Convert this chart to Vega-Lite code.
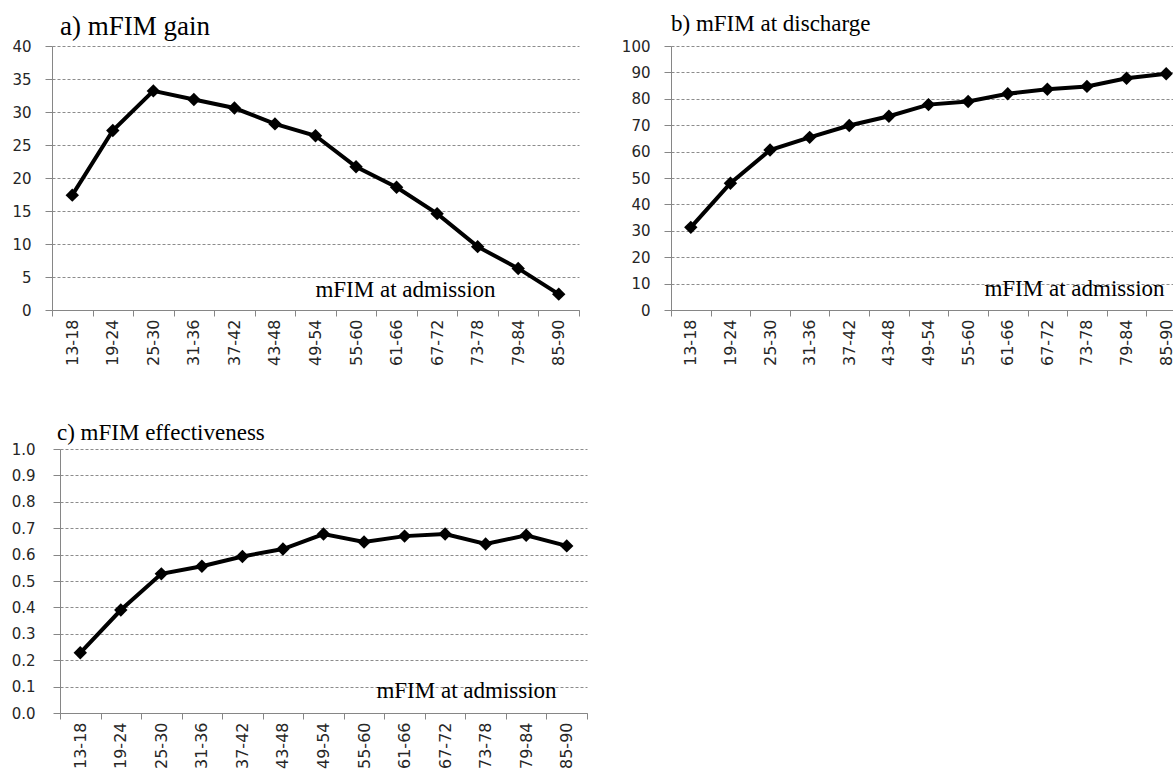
{
  "$schema": "https://vega.github.io/schema/vega-lite/v6.json",
  "background": "white",
  "padding": {"left": 11, "top": 13, "right": 0, "bottom": 0},
  "data": {
    "values": [
      {"cat": "13-18", "gain": 17.4, "discharge": 31.3, "eff": 0.228},
      {"cat": "19-24", "gain": 27.2, "discharge": 48.0, "eff": 0.39},
      {"cat": "25-30", "gain": 33.2, "discharge": 60.6, "eff": 0.527},
      {"cat": "31-36", "gain": 31.9, "discharge": 65.4, "eff": 0.556},
      {"cat": "37-42", "gain": 30.6, "discharge": 69.9, "eff": 0.593},
      {"cat": "43-48", "gain": 28.2, "discharge": 73.4, "eff": 0.621},
      {"cat": "49-54", "gain": 26.4, "discharge": 77.8, "eff": 0.678},
      {"cat": "55-60", "gain": 21.7, "discharge": 79.0, "eff": 0.648},
      {"cat": "61-66", "gain": 18.6, "discharge": 81.9, "eff": 0.670},
      {"cat": "67-72", "gain": 14.6, "discharge": 83.6, "eff": 0.678},
      {"cat": "73-78", "gain": 9.6, "discharge": 84.7, "eff": 0.640},
      {"cat": "79-84", "gain": 6.3, "discharge": 87.8, "eff": 0.673},
      {"cat": "85-90", "gain": 2.4, "discharge": 89.5, "eff": 0.633}
    ]
  },
  "config": {
    "view": {"stroke": null},
    "font": "DejaVu Sans",
    "title": {"font": "Liberation Serif", "fontSize": 26, "fontWeight": "normal", "color": "#000000", "anchor": "start", "baseline": "alphabetic", "frame": "group"},
    "axis": {
      "domainColor": "#868686",
      "tickColor": "#868686",
      "labelColor": "#262626",
      "labelFont": "DejaVu Sans",
      "labelFontSize": 15,
      "gridColor": "#8c8c8c",
      "gridDash": [3, 2],
      "titleFont": "Liberation Serif",
      "titleFontSize": 23,
      "titleFontWeight": "normal",
      "titleColor": "#000000",
      "titleBaseline": "alphabetic",
      "titleAlign": "center"
    },
    "axisX": {"grid": false, "tickBand": "extent", "tickSize": 6, "labelAngle": -90, "labelPadding": 3, "labelFontSize": 16},
    "axisY": {"grid": true, "tickSize": 7, "labelPadding": 14, "title": null}
  },
  "vconcat": [
    {
      "bounds": "flush",
      "spacing": 92,
      "hconcat": [
        {
          "width": 527,
          "height": 264,
          "title": {"text": "a) mFIM gain", "dx": 8, "offset": -2, "fontSize": 27},
          "encoding": {
            "x": {"field": "cat", "type": "ordinal", "sort": null, "scale": {"type": "band", "paddingInner": 0, "paddingOuter": 0}, "axis": {"title": "mFIM  at admission", "titleX": 353, "titleY": -14}},
            "y": {"field": "gain", "type": "quantitative", "scale": {"domain": [0, 40]}, "axis": {"values": [0, 5, 10, 15, 20, 25, 30, 35, 40]}}
          },
          "layer": [
            {"mark": {"type": "line", "color": "#000000", "strokeWidth": 4}},
            {"mark": {"type": "point", "shape": "diamond", "filled": true, "color": "#000000", "size": 180, "opacity": 1}}
          ]
        },
        {
          "width": 515,
          "height": 264,
          "title": {"text": "b) mFIM at discharge", "dx": 0, "offset": 3, "fontSize": 23},
          "encoding": {
            "x": {"field": "cat", "type": "ordinal", "sort": null, "scale": {"type": "band", "paddingInner": 0, "paddingOuter": 0}, "axis": {"title": "mFIM  at admission", "titleX": 403, "titleY": -15}},
            "y": {"field": "discharge", "type": "quantitative", "scale": {"domain": [0, 100]}, "axis": {"values": [0, 10, 20, 30, 40, 50, 60, 70, 80, 90, 100]}}
          },
          "layer": [
            {"mark": {"type": "line", "color": "#000000", "strokeWidth": 4}},
            {"mark": {"type": "point", "shape": "diamond", "filled": true, "color": "#000000", "size": 180, "opacity": 1}}
          ]
        }
      ]
    },
    {
      "width": 535,
      "height": 264,
      "title": {"text": "c) mFIM effectiveness", "dx": 5, "offset": -3, "fontSize": 23},
      "encoding": {
        "x": {"field": "cat", "type": "ordinal", "sort": null, "scale": {"type": "band", "paddingInner": 0, "paddingOuter": 0, "range": [8, 535]}, "axis": {"title": "mFIM  at admission", "titleX": 414, "titleY": -16}},
        "y": {"field": "eff", "type": "quantitative", "scale": {"domain": [0, 1]}, "axis": {"values": [0, 0.1, 0.2, 0.3, 0.4, 0.5, 0.6, 0.7, 0.8, 0.9, 1.0], "format": ".1f", "labelPadding": 18, "offset": -8}}
      },
      "layer": [
        {"mark": {"type": "line", "color": "#000000", "strokeWidth": 4}},
        {"mark": {"type": "point", "shape": "diamond", "filled": true, "color": "#000000", "size": 180, "opacity": 1}}
      ]
    }
  ],
  "spacing": 56
}
